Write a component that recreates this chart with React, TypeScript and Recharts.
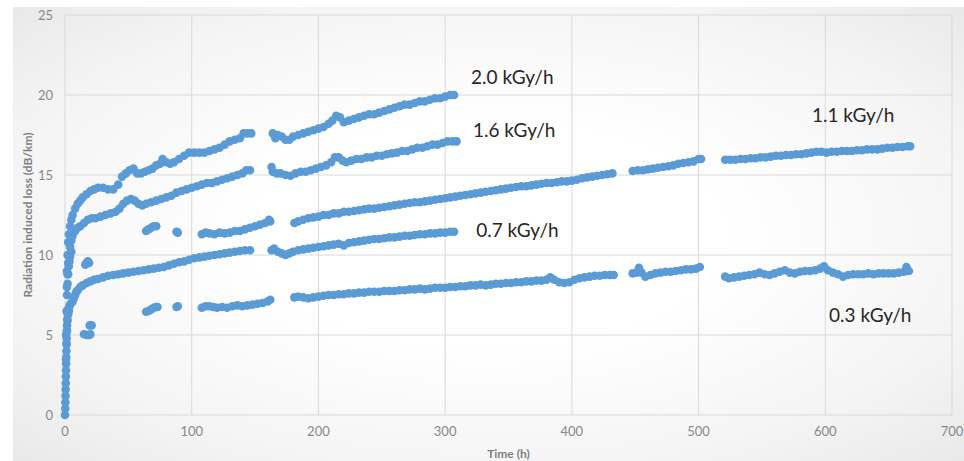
import React from 'react';
import { ScatterChart, Scatter, XAxis, YAxis, CartesianGrid, ReferenceDot } from 'recharts';

// ---- data: [time (h), radiation induced loss (dB/km)] ----
const s20: [number, number][] = [
  [1.5, 9.0], [2, 10.0], [2.5, 10.8], [3, 11.3], [4, 11.8], [5, 12.2], [6, 12.5], [8, 12.9], [10, 13.2], [12, 13.4], [14, 13.6], [17, 13.8], [20, 14.0], [23, 14.1], [26, 14.2], [30, 14.2], [34, 14.1], [38, 14.1], [42, 14.4], [45, 14.9], [48, 15.1], [51, 15.3], [54, 15.4], [57, 15.1], [60, 15.1], [63, 15.2], [66, 15.3], [69, 15.4], [72, 15.6], [75, 15.7], [77, 16.0], [80, 15.8], [83, 15.7], [86, 15.8], [90, 16.0], [94, 16.2], [98, 16.4], [102, 16.4], [106, 16.4], [110, 16.4], [114, 16.5], [118, 16.6], [122, 16.7], [126, 16.9], [130, 17.1], [134, 17.2], [138, 17.3], [141, 17.6], [144, 17.6], [147, 17.6],
  [164, 17.6], [166, 17.3], [168, 17.5], [171, 17.4], [174, 17.2], [177, 17.2], [180, 17.4], [184, 17.5], [188, 17.6], [192, 17.7], [196, 17.8], [200, 17.9], [204, 18.0], [208, 18.2], [211, 18.4], [214, 18.7], [217, 18.6], [220, 18.3], [224, 18.4], [228, 18.5], [232, 18.6], [236, 18.7], [240, 18.8], [244, 18.8], [248, 18.9], [252, 19.0], [256, 19.1], [260, 19.2], [264, 19.3], [268, 19.4], [272, 19.4], [276, 19.5], [280, 19.6], [284, 19.6], [288, 19.7], [292, 19.8], [296, 19.8], [300, 19.9], [304, 20.0], [307, 20.0],
];

const s16: [number, number][] = [
  [1.5, 8.0], [2, 8.8], [2.5, 9.5], [3, 10.0], [4, 10.5], [5, 10.9], [6, 11.2], [8, 11.5], [10, 11.7], [12, 11.8], [15, 12.0], [18, 12.2], [21, 12.3], [24, 12.3], [28, 12.4], [32, 12.5], [36, 12.6], [40, 12.7], [43, 12.9], [46, 13.2], [49, 13.4], [52, 13.5], [55, 13.4], [58, 13.2], [61, 13.1], [64, 13.2], [68, 13.3], [72, 13.4], [76, 13.5], [80, 13.6], [84, 13.7], [88, 13.9], [92, 14.0], [96, 14.1], [100, 14.2], [104, 14.3], [108, 14.4], [112, 14.5], [116, 14.5], [120, 14.6], [124, 14.7], [128, 14.8], [132, 14.9], [136, 15.0], [140, 15.1], [143, 15.3], [146, 15.3],
  [163, 15.5], [164, 15.2], [167, 15.1], [170, 15.1], [174, 15.0], [178, 14.95], [182, 15.1], [186, 15.2], [190, 15.2], [194, 15.3], [198, 15.4], [202, 15.5], [206, 15.6], [210, 15.8], [213, 16.1], [216, 16.1], [219, 15.9], [222, 15.8], [226, 15.9], [230, 16.0], [234, 16.0], [238, 16.1], [242, 16.1], [246, 16.2], [250, 16.2], [254, 16.3], [258, 16.35], [262, 16.4], [266, 16.5], [270, 16.5], [274, 16.6], [278, 16.7], [282, 16.7], [286, 16.8], [290, 16.9], [294, 16.9], [298, 17.0], [302, 17.1], [306, 17.1], [309, 17.1],
];

const s11: [number, number][] = [
  [0.8, 5.0], [1.2, 6.5], [1.6, 7.5], [2, 8.2], [2.5, 8.8], [3, 9.3], [3.5, 9.6], [4, 9.9], [5, 10.2],
  [16, 9.4], [17, 9.5], [18, 9.6], [19, 9.5],
  [64, 11.5], [66, 11.6], [68, 11.7], [70, 11.8], [72, 11.8], [88, 11.45], [89, 11.4],
  [108, 11.3], [111, 11.4], [114, 11.35], [118, 11.3], [122, 11.4], [126, 11.35], [130, 11.4], [134, 11.5], [138, 11.5], [142, 11.6], [146, 11.7], [150, 11.8], [154, 11.9], [158, 12.0], [161, 12.2], [162, 12.1],
  [181, 12.0], [184, 12.1], [188, 12.2], [192, 12.3], [196, 12.35], [200, 12.4], [204, 12.5], [208, 12.5], [212, 12.6], [216, 12.6], [220, 12.7], [224, 12.7], [228, 12.75], [232, 12.8], [236, 12.85], [240, 12.9], [244, 12.9], [248, 12.95], [252, 13.0], [256, 13.05], [260, 13.1], [264, 13.15], [268, 13.2], [272, 13.25], [276, 13.3], [280, 13.3], [284, 13.35], [288, 13.4], [292, 13.45], [296, 13.5], [300, 13.55], [304, 13.6], [308, 13.65], [312, 13.7], [316, 13.75], [320, 13.8], [324, 13.85], [328, 13.9], [332, 13.95], [336, 14.0], [340, 14.05], [344, 14.1], [348, 14.15], [352, 14.2], [356, 14.25], [360, 14.3], [364, 14.3], [368, 14.35], [372, 14.4], [376, 14.45], [380, 14.5], [384, 14.5], [388, 14.55], [392, 14.6], [396, 14.6], [400, 14.65], [404, 14.7], [408, 14.8], [412, 14.85], [416, 14.9], [420, 14.95], [424, 15.0], [428, 15.05], [432, 15.1],
  [448, 15.25], [452, 15.3], [456, 15.3], [460, 15.35], [464, 15.4], [468, 15.45], [472, 15.5], [476, 15.55], [480, 15.6], [484, 15.7], [488, 15.75], [492, 15.8], [496, 15.85], [500, 16.0], [502, 16.0],
  [521, 15.95], [525, 15.95], [529, 15.95], [533, 16.0], [537, 16.0], [541, 16.05], [545, 16.05], [549, 16.1], [553, 16.1], [557, 16.15], [561, 16.2], [565, 16.2], [569, 16.25], [573, 16.25], [577, 16.3], [581, 16.3], [585, 16.35], [589, 16.4], [593, 16.45], [597, 16.45], [601, 16.4], [605, 16.45], [609, 16.45], [613, 16.5], [617, 16.5], [621, 16.5], [625, 16.55], [629, 16.55], [633, 16.6], [637, 16.6], [641, 16.6], [645, 16.65], [649, 16.7], [653, 16.7], [657, 16.75], [661, 16.75], [665, 16.8], [667, 16.8],
];

const s07: [number, number][] = [
  [0.8, 3.5], [1.2, 4.5], [1.6, 5.3], [2, 5.9], [2.5, 6.3], [3, 6.6], [3.5, 6.8], [4, 6.9], [5, 7.0], [6, 7.1], [7, 7.3], [8, 7.5], [9, 7.7], [10, 7.8], [12, 8.0], [14, 8.1], [17, 8.25], [20, 8.35], [23, 8.45], [26, 8.5], [30, 8.6], [34, 8.7], [38, 8.75], [42, 8.8], [46, 8.85], [50, 8.9], [54, 8.95], [58, 9.0], [62, 9.05], [66, 9.1], [70, 9.15], [74, 9.2], [78, 9.25], [82, 9.35], [86, 9.45], [90, 9.55], [94, 9.6], [98, 9.7], [102, 9.8], [106, 9.85], [110, 9.9], [114, 9.95], [118, 10.0], [122, 10.05], [126, 10.1], [130, 10.15], [134, 10.2], [138, 10.25], [142, 10.3], [146, 10.3],
  [163, 10.3], [165, 10.4], [168, 10.2], [171, 10.1], [174, 10.0], [177, 10.1], [180, 10.2], [184, 10.3], [188, 10.35], [192, 10.4], [196, 10.45], [200, 10.5], [204, 10.55], [208, 10.6], [212, 10.65], [216, 10.7], [220, 10.6], [224, 10.75], [228, 10.8], [232, 10.85], [236, 10.9], [240, 10.95], [244, 11.0], [248, 11.0], [252, 11.05], [256, 11.1], [260, 11.1], [264, 11.15], [268, 11.2], [272, 11.2], [276, 11.25], [280, 11.3], [284, 11.3], [288, 11.35], [292, 11.35], [296, 11.4], [300, 11.4], [304, 11.45], [307, 11.45],
];

const s03: [number, number][] = [
  [0, 0], [0.2, 0.4], [0.3, 0.8], [0.4, 1.2], [0.5, 1.6], [0.6, 2.0], [0.7, 2.4], [0.8, 2.8], [0.9, 3.2], [1.0, 3.6], [1.1, 4.0], [1.2, 4.4], [1.3, 4.8], [1.4, 5.2], [1.6, 5.6], [1.8, 6.0], [2.2, 6.3], [3, 6.5],
  [15, 5.05], [17, 5.0], [19, 5.0], [20, 5.05], [19.5, 5.6], [21, 5.6],
  [64, 6.45], [66, 6.5], [68, 6.6], [70, 6.7], [72, 6.75], [73, 6.75], [88, 6.75], [89, 6.8],
  [108, 6.7], [111, 6.8], [114, 6.8], [117, 6.75], [120, 6.7], [124, 6.75], [128, 6.7], [132, 6.8], [136, 6.85], [140, 6.8], [144, 6.85], [148, 6.9], [152, 6.95], [156, 7.0], [160, 7.1], [162, 7.2],
  [181, 7.35], [184, 7.4], [188, 7.35], [192, 7.3], [196, 7.35], [200, 7.4], [204, 7.45], [208, 7.5], [212, 7.5], [216, 7.55], [220, 7.55], [224, 7.6], [228, 7.6], [232, 7.65], [236, 7.65], [240, 7.7], [244, 7.7], [248, 7.7], [252, 7.75], [256, 7.75], [260, 7.75], [264, 7.8], [268, 7.8], [272, 7.85], [276, 7.85], [280, 7.9], [284, 7.85], [288, 7.9], [292, 7.95], [296, 7.95], [300, 7.95], [304, 8.0], [308, 8.0], [312, 8.05], [316, 8.05], [320, 8.1], [324, 8.1], [328, 8.15], [332, 8.1], [336, 8.15], [340, 8.2], [344, 8.2], [348, 8.25], [352, 8.25], [356, 8.3], [360, 8.3], [364, 8.35], [368, 8.35], [372, 8.4], [376, 8.4], [380, 8.45], [383, 8.6], [386, 8.45], [390, 8.3], [394, 8.25], [398, 8.3], [402, 8.45], [406, 8.55], [410, 8.6], [414, 8.65], [418, 8.7], [422, 8.7], [426, 8.75], [430, 8.75], [433, 8.75],
  [448, 8.85], [451, 8.9], [453, 9.2], [455, 8.9], [458, 8.65], [462, 8.75], [466, 8.85], [470, 8.9], [474, 8.95], [478, 8.95], [482, 9.0], [486, 9.05], [490, 9.1], [494, 9.1], [498, 9.15], [501, 9.25],
  [521, 8.65], [524, 8.55], [528, 8.6], [532, 8.65], [536, 8.7], [540, 8.75], [544, 8.8], [548, 8.9], [552, 8.8], [556, 8.75], [560, 8.85], [564, 8.95], [568, 9.05], [572, 8.9], [576, 8.85], [580, 8.95], [584, 9.0], [588, 9.0], [592, 9.05], [596, 9.15], [599, 9.3], [602, 9.05], [606, 8.9], [610, 8.8], [614, 8.65], [618, 8.75], [622, 8.8], [626, 8.8], [630, 8.8], [634, 8.85], [638, 8.8], [642, 8.85], [646, 8.85], [650, 8.85], [654, 8.85], [658, 8.9], [662, 8.95], [664, 9.25], [666, 9.0],
];

const xTicks = [0, 100, 200, 300, 400, 500, 600, 700];
const yTicks = [0, 5, 10, 15, 20, 25];

const seriesLabels: { text: string; t: number; v: number }[] = [
  { text: '2.0 kGy/h', t: 353, v: 21.1 },
  { text: '1.6 kGy/h', t: 354.5, v: 17.8 },
  { text: '0.7 kGy/h', t: 357, v: 11.55 },
  { text: '1.1 kGy/h', t: 622, v: 18.75 },
  { text: '0.3 kGy/h', t: 635.5, v: 6.25 },
];

const COLOR = '#5B9BD5';
const FONT = 'Lato, "Open Sans", sans-serif';

const toPts = (arr: [number, number][]) => arr.map(([t, v]) => ({ t, v }));
const allSeries = [s20, s16, s11, s07, s03];

const Dot = (props: any) => {
  const { cx, cy } = props;
  if (cx == null || cy == null) return null;
  return <circle cx={cx} cy={cy} r={4.3} fill={COLOR} />;
};

export default function App() {
  return (
    <div style={{ position: 'absolute', left: 0, top: 0, width: 964, height: 461, background: '#ffffff' }}>
      <div
        style={{
          position: 'absolute',
          left: 13,
          top: 7,
          width: 951,
          height: 454,
          background: 'radial-gradient(ellipse at center, #ffffff 35%, #f4f4f4 75%, #e9e9e9 100%)',
        }}
      />
      <div style={{ position: 'absolute', left: 0, top: 0 }}>
        <ScatterChart width={964} height={461} margin={{ top: 15, right: 12, bottom: 0, left: 0 }}>
          <CartesianGrid stroke="#d9d9d9" strokeWidth={1} />
          <XAxis
            type="number"
            dataKey="t"
            domain={[0, 700]}
            ticks={xTicks}
            interval={0}
            axisLine={false}
            tickLine={false}
            tickSize={0}
            tickMargin={12}
            height={46}
            tick={{ fill: '#888888', fontSize: 13, fontFamily: FONT }}
            label={{ value: 'Time (h)', position: 'insideBottom', offset: 3, style: { fill: '#7f7f7f', fontSize: 12, fontWeight: 700, fontFamily: FONT } }}
          />
          <YAxis
            type="number"
            dataKey="v"
            domain={[0, 25]}
            ticks={yTicks}
            interval={0}
            axisLine={false}
            tickLine={false}
            tickSize={0}
            tickMargin={12}
            width={65}
            tick={{ fill: '#888888', fontSize: 13, fontFamily: FONT }}
            label={{ value: 'Radiation induced loss (dB/km)', angle: -90, position: 'insideLeft', offset: 28, style: { textAnchor: 'middle', fill: '#7f7f7f', fontSize: 12, fontWeight: 700, fontFamily: FONT } }}
          />
          {allSeries.map((s, i) => (
            <Scatter key={i} data={toPts(s)} fill={COLOR} shape={Dot} isAnimationActive={false} />
          ))}
          {seriesLabels.map((l) => (
            <ReferenceDot
              key={l.text}
              x={l.t}
              y={l.v}
              r={0}
              fill="none"
              stroke="none"
              label={{ value: l.text, position: 'center', style: { fill: '#262626', fontSize: 19, fontFamily: FONT } }}
            />
          ))}
        </ScatterChart>
      </div>
    </div>
  );
}
